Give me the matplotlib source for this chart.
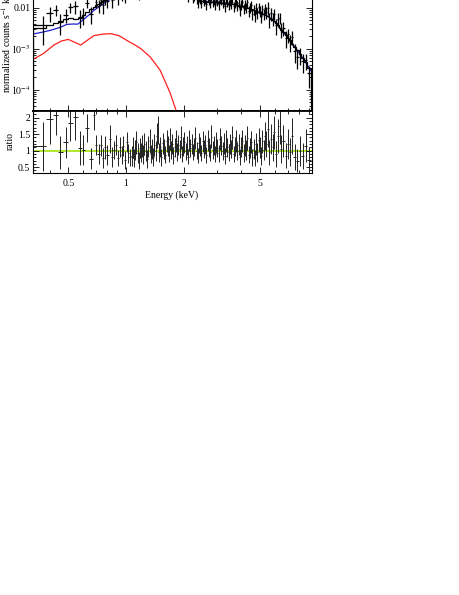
import matplotlib.pyplot as plt
import numpy as np
from matplotlib.ticker import FixedLocator, LogLocator, MultipleLocator, NullFormatter

plt.rcParams['font.family'] = ['Liberation Serif', 'DejaVu Serif']
plt.rcParams['mathtext.fontset'] = 'stix'
plt.rcParams['font.size'] = 7

# bin centres (keV), ratio data/model and ratio errors
e_low = [0.367, 0.401, 0.43, 0.452, 0.485, 0.51, 0.545, 0.576, 0.60, 0.63,
         0.66, 0.68, 0.70, 0.72, 0.74, 0.76, 0.78, 0.80, 0.83, 0.85,
         0.87, 0.89, 0.91, 0.93, 0.95, 0.97, 0.99, 1.01, 1.03, 1.05]
r_low = [1.13, 1.96, 2.08, 0.95, 1.25, 1.85, 2.03, 1.08, 1.03, 1.69,
         0.76, 2.09, 1.16, 0.90, 1.16, 0.78, 1.10, 0.88, 1.36, 0.82,
         1.02, 1.18, 0.78, 1.10, 0.86, 1.15, 0.72, 1.25, 0.92, 0.80]
s_low = [0.75, 0.75, 0.62, 0.50, 0.48, 0.55, 0.70, 0.50, 0.45, 0.42,
         0.33, 0.45, 0.30, 0.30, 0.32, 0.30, 0.35, 0.30, 0.42, 0.30,
         0.28, 0.30, 0.25, 0.30, 0.27, 0.30, 0.26, 0.30, 0.28, 0.25]

e_mid = [1.07, 1.09, 1.10, 1.12, 1.13, 1.15, 1.17, 1.18, 1.20, 1.22,
         1.23, 1.25, 1.27, 1.29, 1.31, 1.33, 1.35, 1.37, 1.39, 1.41,
         1.43, 1.45, 1.47, 1.49, 1.51, 1.53, 1.56, 1.58, 1.60, 1.63,
         1.65, 1.67, 1.70, 1.72, 1.75, 1.77, 1.80, 1.83, 1.85, 1.88,
         1.91, 1.94, 1.96, 1.99, 2.02, 2.05, 2.08, 2.11, 2.14, 2.17,
         2.21, 2.24, 2.27, 2.31, 2.34, 2.38, 2.41, 2.45, 2.48, 2.52,
         2.56, 2.60, 2.63, 2.67, 2.71, 2.75, 2.80, 2.84, 2.88, 2.92,
         2.97, 3.01, 3.06, 3.10, 3.15, 3.20, 3.25, 3.29, 3.34, 3.39,
         3.44, 3.50, 3.55, 3.60, 3.66, 3.71, 3.77, 3.82, 3.88, 3.94,
         4.00, 4.06, 4.12, 4.18, 4.25, 4.31, 4.38, 4.44, 4.51, 4.58,
         4.65, 4.72, 4.79, 4.86, 4.94, 5.01, 5.09, 5.17, 5.25, 5.33]
r_mid = [0.85, 1.10, 0.78, 1.02, 1.25, 0.92, 0.70, 1.08, 0.95, 1.15,
         0.88, 1.20, 0.98, 0.75, 1.12, 1.30, 0.90, 1.05, 0.82, 1.18,
         1.00, 1.45, 1.62, 0.95, 1.10, 0.80, 1.22, 1.05, 0.88, 1.28,
         1.15, 0.92, 1.35, 1.02, 1.20, 0.85, 1.10, 1.30, 0.95, 1.18,
         1.05, 1.40, 0.90, 1.12, 1.25, 0.98, 1.15, 0.82, 1.32, 1.08,
         1.20, 0.95, 1.10, 1.38, 1.00, 0.85, 1.22, 1.12, 0.92, 1.28,
         1.05, 1.18, 0.88, 1.30, 1.10, 0.95, 1.42, 1.02, 1.15, 0.90,
         1.25, 1.08, 0.92, 1.35, 1.15, 1.00, 1.22, 0.85, 1.30, 1.10,
         0.95, 1.20, 1.05, 1.40, 0.90, 1.12, 1.28, 0.98, 1.18, 0.82,
         1.10, 1.30, 0.92, 1.15, 1.02, 1.38, 0.88, 1.08, 1.25, 0.80,
         1.05, 0.78, 1.20, 0.95, 1.32, 1.10, 0.85, 1.28, 1.02, 1.45]
s_mid = [0.30, 0.32, 0.28, 0.30, 0.35, 0.30, 0.27, 0.31, 0.29, 0.33,
         0.29, 0.34, 0.30, 0.26, 0.32, 0.36, 0.28, 0.30, 0.27, 0.33,
         0.30, 0.38, 0.42, 0.28, 0.30, 0.25, 0.32, 0.29, 0.26, 0.33,
         0.30, 0.26, 0.34, 0.28, 0.30, 0.25, 0.29, 0.33, 0.27, 0.30,
         0.28, 0.34, 0.25, 0.28, 0.31, 0.26, 0.29, 0.23, 0.32, 0.27,
         0.29, 0.24, 0.27, 0.33, 0.26, 0.23, 0.30, 0.28, 0.24, 0.31,
         0.27, 0.29, 0.24, 0.32, 0.28, 0.25, 0.35, 0.27, 0.29, 0.25,
         0.31, 0.28, 0.25, 0.33, 0.29, 0.27, 0.31, 0.24, 0.33, 0.29,
         0.26, 0.31, 0.28, 0.35, 0.25, 0.29, 0.33, 0.27, 0.31, 0.24,
         0.30, 0.34, 0.27, 0.31, 0.29, 0.36, 0.26, 0.30, 0.33, 0.25,
         0.31, 0.25, 0.34, 0.29, 0.37, 0.32, 0.27, 0.36, 0.31, 0.42]

e_high = [5.42, 5.52, 5.62, 5.73, 5.84, 5.96, 6.08, 6.21, 6.35, 6.50,
          6.66, 6.83, 7.01, 7.20, 7.40, 7.62, 7.86, 8.12, 8.40, 8.70, 9.05]
r_high = [1.20, 1.65, 0.95, 1.35, 1.10, 1.55, 0.90, 1.45, 1.75, 1.05,
          1.30, 0.85, 1.20, 0.95, 1.45, 0.80, 0.70, 1.00, 0.84, 1.15, 0.72]
s_high = [0.40, 0.55, 0.38, 0.45, 0.40, 0.50, 0.38, 0.52, 0.55, 0.42,
          0.48, 0.38, 0.45, 0.42, 0.55, 0.40, 0.35, 0.45, 0.40, 0.50, 0.40]

# model components (normalized counts s^-1 keV^-1)
blue_e = [0.327, 0.36, 0.40, 0.45, 0.49, 0.53, 0.56, 0.60, 0.64, 0.68,
          0.73, 0.79, 0.9, 1.0, 1.2, 1.5, 1.8, 2.0, 2.2, 2.45,
          2.8, 3.2, 3.66, 4.2, 4.8, 5.47, 6.0, 6.67, 7.2, 7.85, 8.5, 9.23, 9.5]
blue_v = [2.3e-3, 2.5e-3, 2.8e-3, 3.3e-3, 3.95e-3, 4.05e-3, 4.0e-3, 5.2e-3, 6.6e-3, 8.7e-3,
          1.1e-2, 1.44e-2, 2.0e-2, 2.7e-2, 3.8e-2, 4.3e-2, 3.6e-2, 2.8e-2, 2.0e-2, 1.45e-2,
          1.4e-2, 1.33e-2, 1.22e-2, 1.05e-2, 8.4e-3, 6.4e-3, 4.6e-3, 2.5e-3, 1.6e-3, 9.2e-4,
          5.5e-4, 3.0e-4, 2.4e-4]
red_e = [0.327, 0.37, 0.42, 0.46, 0.5, 0.54, 0.58, 0.62, 0.68, 0.75,
         0.83, 0.92, 1.03, 1.09, 1.2, 1.34, 1.51, 1.7, 1.83, 1.95]
red_v = [5.5e-4, 7.6e-4, 1.23e-3, 1.55e-3, 1.7e-3, 1.45e-3, 1.23e-3, 1.55e-3, 2.1e-3, 2.28e-3,
         2.35e-3, 2.1e-3, 1.52e-3, 1.33e-3, 1.0e-3, 6.3e-4, 3.0e-4, 8.5e-5, 3.1e-5, 1.2e-5]

energy = np.array(e_low + e_mid + e_high)
ratio = np.array(r_low + r_mid + r_high)
ratio_err = np.array(s_low + s_mid + s_high)

xlim = (0.327, 9.33)

edges = np.r_[xlim[0], (energy[1:] + energy[:-1]) / 2, 2 * energy[-1] - (energy[-1] + energy[-2]) / 2]
x_lo = energy - edges[:-1]
x_hi = edges[1:] - energy

def logi(e, xe, ye):
    return 10 ** np.interp(np.log10(e), np.log10(xe), np.log10(ye), right=-8)

model = logi(energy, blue_e, blue_v) + logi(energy, red_e, red_v)
counts = model * ratio
counts_err = model * ratio_err

fig = plt.figure(figsize=(4.6, 5.95), dpi=100)
left, width = 33 / 460, 278.5 / 460
ax1 = fig.add_axes([left, 1 - 111 / 595, width, 0.2746])
ax2 = fig.add_axes([left, 1 - 173.3 / 595, width, 62.3 / 595])

# upper panel: spectrum
ax1.errorbar(energy, counts, yerr=counts_err, xerr=[x_lo, x_hi], fmt='none',
             ecolor='black', elinewidth=0.9, capsize=0, zorder=3)
ax1.stairs(model, edges, color='black', lw=0.9, zorder=4)
eb = np.geomspace(blue_e[0], blue_e[-1], 300)
ax1.plot(eb, logi(eb, blue_e, blue_v), color='#1f1fd0', lw=0.9, zorder=2)
er = np.geomspace(red_e[0], red_e[-1], 200)
ax1.plot(er, logi(er, red_e, red_v), color='#ff2020', lw=0.9, zorder=2)
ax1.set_xscale('log')
ax1.set_yscale('log')
ax1.set_xlim(*xlim)
ax1.set_ylim(3.0e-5, 0.3)
ax1.yaxis.set_major_locator(FixedLocator([1e-4, 1e-3, 1e-2, 0.1]))
ax1.set_yticklabels(['$10^{-4}$', '$10^{-3}$', '0.01', '0.1'])
ax1.yaxis.set_minor_locator(LogLocator(base=10, subs=np.arange(2, 10)))
ax1.yaxis.set_minor_formatter(NullFormatter())
ax1.tick_params(labelbottom=False)

# lower panel: ratio
ax2.axhline(1.0, color='#b0e832', lw=1.5, zorder=1)
ax2.errorbar(energy, ratio, yerr=ratio_err, xerr=[x_lo, x_hi], fmt='none',
             ecolor='#222222', elinewidth=0.7, capsize=0, zorder=2)
ax2.set_xscale('log')
ax2.set_xlim(*xlim)
ax2.set_ylim(0.315, 2.2)
ax2.yaxis.set_major_locator(FixedLocator([0.5, 1, 1.5, 2]))
ax2.set_yticklabels(['0.5', '1', '1.5', '2'])
ax2.yaxis.set_minor_locator(MultipleLocator(0.1))

for ax in (ax1, ax2):
    ax.xaxis.set_major_locator(FixedLocator([0.5, 1, 2, 5]))
    ax.xaxis.set_minor_locator(FixedLocator([0.4, 0.6, 0.7, 0.8, 0.9, 3, 4, 6, 7, 8, 9]))
    ax.xaxis.set_minor_formatter(NullFormatter())
    ax.tick_params(which='both', direction='in', top=True, right=True, width=0.6, pad=2)
    ax.tick_params(which='major', length=4)
    ax.tick_params(which='minor', length=2)
    for s in ax.spines.values():
        s.set_linewidth(0.8)
ax1.tick_params(axis='y', pad=1.5)
ax2.tick_params(axis='x', pad=4)
ax1.spines['bottom'].set_linewidth(1.3)
ax2.spines['top'].set_linewidth(1.3)
ax2.set_xticklabels(['0.5', '1', '2', '5'])

fig.text(6 / 460, 1 - 93 / 595, 'normalized counts s$^{-1}$ keV$^{-1}$',
         rotation=90, ha='center', va='bottom')
fig.text(10 / 460, 1 - 141 / 595, 'ratio', rotation=90, ha='center', va='center')
fig.text(172 / 460, 1 - 195 / 595, 'Energy (keV)', ha='center', va='center')

plt.savefig('out.png', dpi=100)
